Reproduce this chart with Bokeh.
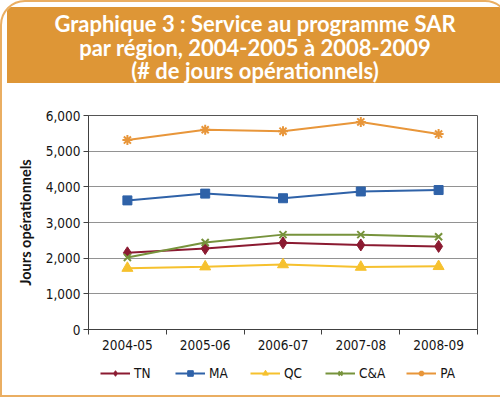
from bokeh.plotting import figure
from bokeh.layouts import column
from bokeh.models import (FixedTicker, NumeralTickFormatter, Legend, LegendItem,
                          Range1d, ColumnDataSource, Div)
from bokeh.embed import file_html
from bokeh.resources import INLINE

# ---------------- data ----------------
periods = ["2004-05", "2005-06", "2006-07", "2007-08", "2008-09"]
tn = [2150, 2270, 2430, 2370, 2330]
ma = [3620, 3810, 3680, 3870, 3910]
qc = [1720, 1760, 1820, 1750, 1770]
ca = [2020, 2440, 2660, 2660, 2600]
pa = [5310, 5600, 5560, 5820, 5480]
series_names = ["TN", "MA", "QC", "C&A", "PA"]
y_ticks = [0, 1000, 2000, 3000, 4000, 5000, 6000]
title_lines = ["Graphique 3 : Service au programme SAR",
               "par région, 2004-2005 à 2008-2009",
               "(# de jours opérationnels)"]
y_label = "Jours opérationnels"

ORANGE = "#DE9636"
BOX = "#EAAE62"
INNER_W = 496
BANNER_H = 76
CHART_H = 267
LEG_H = 40
TICK_FONT = "DejaVu Sans Condensed"
TXT = "#141414"

# ---------------- banner ----------------
banner = Div(
    text='<div style="padding-top:5px">' + "<br>".join(title_lines) + "</div>",
    width=INNER_W, height=BANNER_H,
    styles={"background-color": ORANGE, "color": "white",
            "font-family": "Lato", "font-weight": "bold", "font-size": "22px",
            "text-align": "center", "line-height": "23.5px",
            "overflow": "hidden"})

# ---------------- chart ----------------
x = [i + 0.5 for i in range(len(periods))]
p = figure(width=INNER_W, height=CHART_H, output_backend="svg", toolbar_location=None,
           x_range=Range1d(0, len(periods)), y_range=Range1d(0, 6000),
           min_border_left=86, min_border_right=21, min_border_top=27, min_border_bottom=26)
p.background_fill_color = "white"
p.border_fill_color = "white"
p.outline_line_color = "#555555"
p.xgrid.visible = False
p.ygrid.grid_line_color = "#929292"
p.ygrid.grid_line_width = 1

xa = p.xaxis[0]
xa.ticker = FixedTicker(ticks=x, minor_ticks=list(range(len(periods) + 1)))
xa.major_label_overrides = {xi: lab for xi, lab in zip(x, periods)}
xa.major_tick_out = 0
xa.major_tick_in = 0
xa.minor_tick_out = 5
xa.minor_tick_in = 0
xa.minor_tick_line_color = "#404040"
xa.axis_line_color = "#404040"
xa.major_label_text_font = TICK_FONT
xa.major_label_text_font_size = "13.5px"
xa.major_label_text_color = TXT
xa.major_label_standoff = 5

ya = p.yaxis[0]
ya.ticker = FixedTicker(ticks=y_ticks)
ya.formatter = NumeralTickFormatter(format="0,0")
ya.major_tick_out = 5
ya.major_tick_in = 0
ya.minor_tick_out = 0
ya.minor_tick_in = 0
ya.major_tick_line_color = "#404040"
ya.axis_line_color = "#404040"
ya.major_label_text_font = TICK_FONT
ya.major_label_text_font_size = "13.5px"
ya.major_label_text_color = TXT
ya.major_label_standoff = 3
ya.axis_label = y_label
ya.axis_label_text_font = "Lato"
ya.axis_label_text_font_style = "bold"
ya.axis_label_text_font_size = "14.5px"
ya.axis_label_text_color = TXT
ya.axis_label_standoff = 9

styles = [
    (tn, "#8B1A31", "diamond", 12, 1),
    (ma, "#2F62A8", "square", 9, 1),
    (qc, "#F6C12E", "triangle", 11, 1),
    (ca, "#77933C", "x", 10, 2),
    (pa, "#E8963A", "asterisk", 10, 2),
]
for name, (vals, col, mk, sz, mlw) in zip(series_names, styles):
    src = ColumnDataSource(dict(x=x, y=vals))
    p.line("x", "y", source=src, line_color=col, line_width=2)
    p.scatter("x", "y", source=src, marker=mk, size=sz, fill_color=col,
              line_color=col, line_width=mlw)

# ---------------- legend strip (its frame is aligned with the chart's frame) ----------------
lf = figure(width=INNER_W, height=LEG_H, output_backend="svg", toolbar_location=None,
            x_range=Range1d(0, len(periods)), y_range=Range1d(-2, -1),
            x_axis_location=None, y_axis_location=None,
            min_border=0, min_border_left=0, min_border_right=0,
            min_border_top=0, min_border_bottom=0)
lf.grid.visible = False
lf.outline_line_color = None
lf.background_fill_color = "white"
lf.border_fill_color = "white"
items = []
for name, (vals, col, mk, sz, mlw) in zip(series_names, styles):
    src = ColumnDataSource(dict(x=x, y=vals))  # values lie outside this strip's view
    lr = lf.line("x", "y", source=src, line_color=col, line_width=2)
    sr = lf.scatter("x", "y", source=src, marker=mk, size=sz, fill_color=col,
                    line_color=col, line_width=mlw)
    items.append(LegendItem(label=name, renderers=[lr, sr]))

legend = Legend(items=items, orientation="horizontal", location=(12, 14),
                glyph_width=30, glyph_height=14, label_standoff=4, spacing=21,
                padding=0, margin=0, border_line_color=None,
                background_fill_alpha=0,
                label_text_font=TICK_FONT, label_text_font_size="13.5px",
                label_text_color=TXT)
lf.add_layout(legend)

layout = column(banner, p, lf, spacing=0,
                styles={"border": "2px solid " + BOX,
                        "border-radius": "25px 25px 0 0",
                        "overflow": "hidden",
                        "background-color": "white"})

open("out.html", "w").write(file_html(layout, INLINE))
